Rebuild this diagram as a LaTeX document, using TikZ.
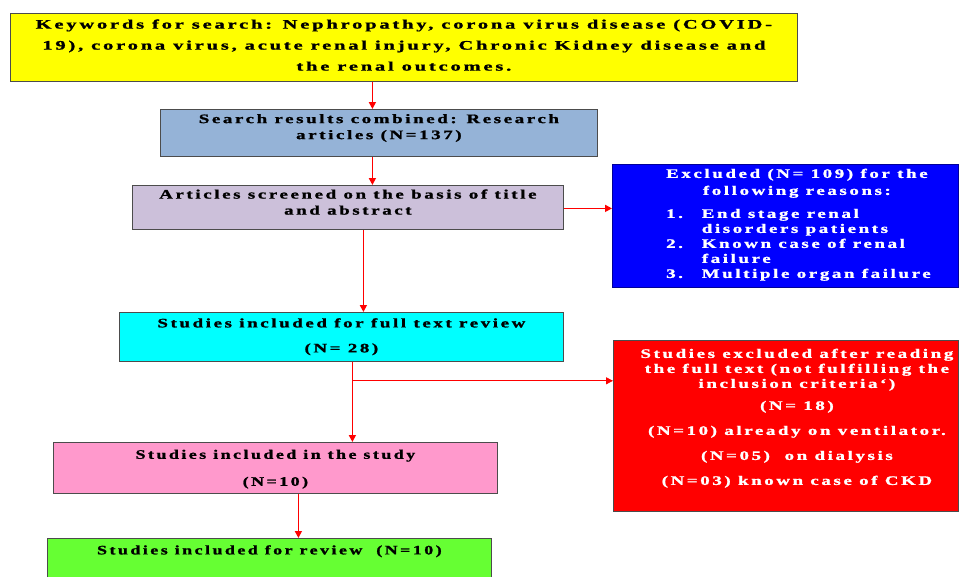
\documentclass[tikz,border=0pt]{standalone}
\usepackage{fontspec}
\usepackage{graphicx}
\setmainfont{Liberation Serif}[LetterSpace=14,BoldFeatures={FakeBold=1.2}]
\usetikzlibrary{arrows.meta}

\definecolor{kwyellow}{HTML}{FFFF00}
\definecolor{resblue}{HTML}{95B3D7}
\definecolor{scrlilac}{HTML}{CCC0DA}
\definecolor{excblue}{HTML}{0000FF}
\definecolor{fullcyan}{HTML}{00FFFF}
\definecolor{rejred}{HTML}{FF0000}
\definecolor{incpink}{HTML}{FF99CC}
\definecolor{revgreen}{HTML}{66FF33}

% wide bold lines, as in the scanned chart
\newcommand{\wide}[2][1.45]{\scalebox{#1}[1]{\begin{tabular}{@{}c@{}}#2\end{tabular}}}

\begin{document}
\begin{tikzpicture}[x=1pt,y=-1pt,>={Triangle[length=7pt,width=7pt]}]
\tikzset{
  box/.style={draw=black!70,line width=0.8pt,anchor=north west,inner sep=0pt},
  lbl/.style={inner sep=0pt,font=\bfseries\fontsize{13}{16}\selectfont},
  flow/.style={->,draw=rejred,line width=1.6pt},
  branch/.style={->,draw=rejred,line width=0.8pt}
}
\clip (0,0) rectangle (959,576);

% boxes
\node[box,fill=kwyellow,minimum width=787pt,minimum height=68pt] (kw) at (10,13) {};
\node[box,fill=resblue,minimum width=437pt,minimum height=47pt] (res) at (160,109) {};
\node[box,fill=scrlilac,minimum width=431pt,minimum height=44pt] (scr) at (132,185) {};
\node[box,fill=excblue,draw=excblue!60!black,minimum width=346pt,minimum height=123pt] (exc) at (612,164) {};
\node[box,fill=fullcyan,minimum width=444pt,minimum height=49pt] (full) at (119,312) {};
\node[box,fill=rejred,minimum width=345pt,minimum height=171pt] (rej) at (613,340) {};
\node[box,fill=incpink,minimum width=444pt,minimum height=51pt] (inc) at (53,442) {};
\node[box,fill=revgreen,minimum width=444pt,minimum height=70pt] (rev) at (47,538) {};

% texts
\node[lbl,font=\bfseries\fontsize{13}{21}\selectfont] (kw-t) at ([yshift=2pt]kw.center)
  {\wide[1.57]{Keywords for search: Nephropathy, corona virus disease (COVID-\\
   19), corona virus, acute renal injury, Chronic Kidney disease and\\
   the renal outcomes.}};
\node[lbl] (res-t) at ([yshift=5pt]res.center)
  {\wide{Search results combined: Research\\ articles (N=137)}};
\node[lbl] (scr-t) at ([yshift=4pt]scr.center)
  {\wide{Articles screened on the basis of title\\ and abstract}};
\node[lbl,text=white,font=\bfseries\fontsize{13}{15}\selectfont] (exc-t) at ([xshift=26pt,yshift=1pt]exc.center)
  {\scalebox{1.45}[1]{\begin{tabular}{@{}l@{\hspace{13pt}}l@{}}
   \multicolumn{2}{@{}c@{\hspace{20pt}}}{Excluded (N= 109) for the}\\[2pt]
   \multicolumn{2}{@{}c@{\hspace{20pt}}}{following reasons:}\\[8pt]
   1. & End stage renal\\
      & disorders patients\\
   2. & Known case of renal\\
      & failure\\
   3. & Multiple organ failure
   \end{tabular}}};
\node[lbl,font=\bfseries\fontsize{13}{25}\selectfont] (full-t) at ([yshift=2pt]full.center)
  {\wide{Studies included for full text review\\ (N= 28)}};
\node[lbl,text=white,font=\bfseries\fontsize{13}{25}\selectfont] (rej-t) at ([xshift=11pt,yshift=6pt]rej.center)
  {\wide{{\fontsize{13}{15}\selectfont\begin{tabular}{@{}c@{}}Studies excluded after reading\\
   the full text (not fulfilling the\\ inclusion criteria`)\end{tabular}}\\
   (N= 18)\\
   (N=10) already on ventilator.\\
   (N=05)\ \ on dialysis\\
   (N=03) known case of CKD}};
\node[lbl,font=\bfseries\fontsize{13}{27}\selectfont] (inc-t) at ([yshift=1pt]inc.center)
  {\wide[1.375]{Studies included in the study\\ (N=10)}};
\node[lbl,anchor=north] (rev-t) at ([yshift=-5pt]rev.north)
  {\wide[1.375]{Studies included for review\ \ (N=10)}};

% connectors
\draw[flow] ([xshift=-31.5pt]kw.south) -- ([xshift=-6.5pt]res.north);
\draw[flow] ([xshift=-6.5pt]res.south) -- ([xshift=24.5pt]scr.north);
\draw[flow] ([yshift=-1pt]scr.east) -- ([yshift=-1pt]scr.east -| exc.west);
\draw[flow] ([xshift=15.5pt]scr.south) -- ([xshift=22pt]full.north);
\draw[flow] ([xshift=11pt]full.south) -- ([xshift=77pt]inc.north);
\coordinate (split) at ([xshift=11pt,yshift=-19pt]full.south);
\draw[branch] (split) -- (split -| rej.west);
\draw[flow] ([xshift=23pt]inc.south) -- ([xshift=29pt]rev.north);
\end{tikzpicture}
\end{document}
